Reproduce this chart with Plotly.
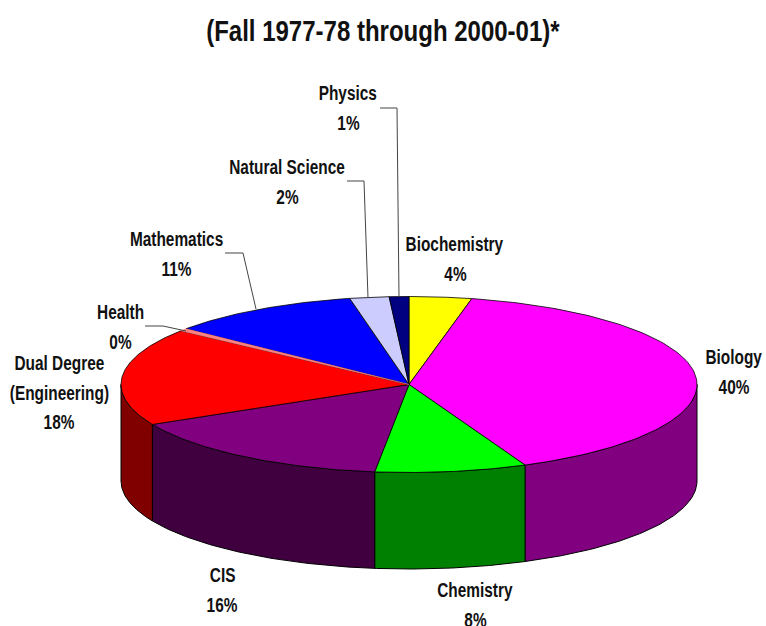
import numpy as np
import plotly.graph_objects as go

categories = ["Biochemistry", "Biology", "Chemistry", "CIS", "Dual Degree|(Engineering)",
              "Health", "Mathematics", "Natural Science", "Physics"]
values = [3.5, 39.9, 8.5, 15.6, 17.95, 0.45, 10.8, 2.2, 1.1]
percent_labels = ["4%", "40%", "8%", "16%", "18%", "0%", "11%", "2%", "1%"]
top_colors = ["#ffff00", "#ff00ff", "#00ff00", "#800080", "#ff0000", "#ff8080", "#0000ff", "#ccccff", "#000080"]
side_colors = ["#808000", "#800080", "#008000", "#400040", "#800000", "#804040", "#000080", "#666680", "#000040"]
title = "(Fall 1977-78 through 2000-01)*"
# centre x and first-line y of each label
label_pos = [(455, 244), (734, 357), (475, 590), (222, 575), (59, 363), (120, 312), (176, 239), (287, 167), (348, 93)]
leaders = {
    "Physics": [(380, 108), (397, 108), (399, 297)],
    "Natural Science": [(347, 181), (364, 181), (368, 298)],
    "Mathematics": [(225, 253), (243, 253), (256, 309)],
    "Health": [(145, 326), (163, 326), (186, 331)],
}

CX, CY, RX, RY, DEPTH = 409, 384.5, 288, 88, 96.5
LINE_GAP = 29.5
FONT = "Liberation Sans, Arial"
POST = """
document.documentElement.style.overflow='hidden';
document.body.style.margin='0';
function squeeze(){
  document.querySelectorAll('text.annotation-text').forEach(function(t){
    if(t.getAttribute('textLength')) return;
    var L=t.getComputedTextLength();
    var f=parseFloat(t.style.fontSize)>=28?0.8:0.77;
    t.setAttribute('lengthAdjust','spacingAndGlyphs');
    t.setAttribute('textLength',L*f);
  });
}
squeeze();setTimeout(squeeze,0);setTimeout(squeeze,100);
"""

def pt(theta):
    return CX + RX * np.sin(theta), CY - RY * np.cos(theta)

fig = go.Figure()
edges = np.cumsum([0] + values) / sum(values) * 2 * np.pi

for i in range(len(values)):
    a, b = max(edges[i], np.pi / 2), min(edges[i + 1], 3 * np.pi / 2)
    if b <= a:
        continue
    t = np.linspace(a, b, 80)
    x, y = pt(t)
    xs = np.r_[x, x[::-1], x[0]]
    ys = np.r_[y, y[::-1] + DEPTH, y[0]]
    fig.add_trace(go.Scatter(x=xs, y=ys, mode="lines", fill="toself", fillcolor=side_colors[i],
                             line=dict(color="#000000", width=1), hoverinfo="skip", showlegend=False))
# the Health sliver goes last so its own colour is not hidden by neighbouring outlines
order = [i for i in range(len(values)) if categories[i] != "Health"] + [categories.index("Health")]
for i in order:
    t = np.linspace(edges[i], edges[i + 1], 120)
    x, y = pt(t)
    xs = np.r_[CX, x, CX]
    ys = np.r_[CY, y, CY]
    is_health = categories[i] == "Health"
    fig.add_trace(go.Scatter(x=xs, y=ys, mode="lines", fill="toself", fillcolor=top_colors[i],
                             line=dict(color=top_colors[i] if is_health else "#000000", width=0.5 if is_health else 0.8),
                             hoverinfo="skip", showlegend=False))
for name, pts in leaders.items():
    fig.add_trace(go.Scatter(x=[p[0] for p in pts], y=[p[1] for p in pts], mode="lines",
                             line=dict(color="#444444", width=1), hoverinfo="skip", showlegend=False))

for c, p, (lx, ly) in zip(categories, percent_labels, label_pos):
    for k, line in enumerate(c.split("|") + [p]):
        fig.add_annotation(x=lx, y=ly + k * LINE_GAP, text=f"<b>{line}</b>", showarrow=False,
                           xanchor="center", yanchor="middle",
                           font=dict(family=FONT, size=20, color="#111111"))
fig.add_annotation(x=383, y=30, text=f"<b>{title}</b>", showarrow=False, xanchor="center", yanchor="middle",
                   font=dict(family=FONT, size=30, color="#111111"))

fig.update_layout(width=766, height=626, margin=dict(l=0, r=0, t=0, b=0), paper_bgcolor="white", plot_bgcolor="white",
                  xaxis=dict(range=[0, 766], visible=False, fixedrange=True),
                  yaxis=dict(range=[626, 0], visible=False, fixedrange=True), showlegend=False)
fig.write_html("out.html", config={"displayModeBar": False}, post_script=POST)
